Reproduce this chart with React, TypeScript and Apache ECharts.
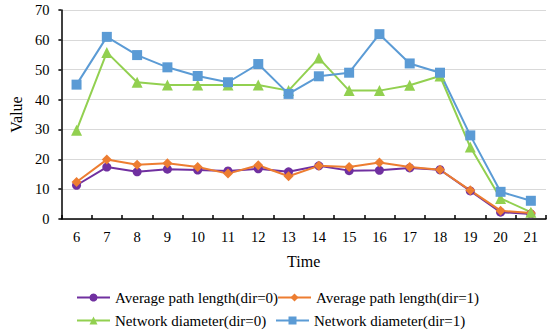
import React, { useEffect, useRef } from "react";
import * as echarts from "echarts";

const categories = ["6", "7", "8", "9", "10", "11", "12", "13", "14", "15", "16", "17", "18", "19", "20", "21"];
const aplDir0 = [11.3, 17.4, 15.8, 16.7, 16.4, 16.1, 16.8, 15.8, 17.8, 16.2, 16.3, 17.1, 16.5, 9.4, 2.3, 1.7];
const aplDir1 = [12.4, 19.9, 18.2, 18.7, 17.4, 15.2, 18.0, 14.3, 17.8, 17.4, 18.9, 17.4, 16.5, 9.6, 2.8, 2.0];
const ndDir0 = [29.7, 55.8, 45.8, 44.9, 44.9, 44.9, 44.9, 43, 53.9, 43, 43, 44.8, 47.9, 24.1, 6.9, 2.3];
const ndDir1 = [45, 61, 54.9, 50.8, 47.9, 45.8, 51.9, 41.9, 47.8, 49, 61.9, 52.1, 49, 28, 9.1, 6.1];
const yTicks = { min: 0, max: 70, interval: 10 };

const FONT = "'Liberation Serif', 'Times New Roman', serif";

export default function App() {
  const ref = useRef<HTMLDivElement>(null);
  useEffect(() => {
    if (!ref.current) return;
    const chart = echarts.init(ref.current, undefined, { renderer: "svg" });
    const mk = (name: string, data: number[], color: string, symbol: string, size: number) => ({
      name,
      type: "line",
      data,
      symbol,
      symbolSize: size,
      lineStyle: { color, width: 2 },
      itemStyle: { color },
      emphasis: { disabled: true },
    });
    const legendBase = {
      orient: "horizontal",
      padding: 0,
      itemWidth: 33,
      itemHeight: 10,
      itemGap: 3,
      textStyle: { fontFamily: FONT, fontSize: 15, color: "#000" },
      selectedMode: false,
    };
    chart.setOption({
      animation: false,
      textStyle: { fontFamily: FONT },
      grid: { left: 50, right: 4, top: 10, bottom: 117, containLabel: false },
      xAxis: {
        type: "category",
        data: categories,
        boundaryGap: true,
        name: "Time",
        nameLocation: "middle",
        nameGap: 34,
        nameTextStyle: { fontFamily: FONT, fontSize: 16, color: "#000" },
        axisLine: { lineStyle: { color: "#000", width: 1.5 } },
        axisTick: { show: true, length: 4, inside: true, lineStyle: { color: "#000", width: 1.5 } },
        axisLabel: { fontFamily: FONT, fontSize: 14.5, color: "#000", margin: 10 },
      },
      yAxis: {
        type: "value",
        min: yTicks.min,
        max: yTicks.max,
        interval: yTicks.interval,
        name: "Value",
        nameLocation: "middle",
        nameGap: 36,
        nameTextStyle: { fontFamily: FONT, fontSize: 16, color: "#000" },
        axisLine: { show: true, lineStyle: { color: "#000", width: 1.5 } },
        axisTick: { show: true, length: 3, lineStyle: { color: "#000", width: 1.5 } },
        axisLabel: { fontFamily: FONT, fontSize: 14.5, color: "#000", margin: 12 },
        splitLine: { show: true, lineStyle: { color: "#d9d9d9", width: 1 } },
      },
      legend: [
        { ...legendBase, left: 76, top: 290, data: ["Average path length(dir=0)"] },
        { ...legendBase, left: 277, top: 290, data: ["Average path length(dir=1)"] },
        { ...legendBase, left: 76, top: 313, data: ["Network diameter(dir=0)"] },
        { ...legendBase, left: 275, top: 313, data: ["Network diameter(dir=1)"] },
      ],
      series: [
        mk("Average path length(dir=0)", aplDir0, "#7030A0", "circle", 9),
        mk("Average path length(dir=1)", aplDir1, "#ED7D31", "diamond", 10),
        mk("Network diameter(dir=0)", ndDir0, "#92D050", "triangle", 11),
        mk("Network diameter(dir=1)", ndDir1, "#5B9BD5", "rect", 10),
      ],
    });
    return () => chart.dispose();
  }, []);
  return <div ref={ref} style={{ width: 550, height: 336, position: "absolute", left: 0, top: 0 }} />;
}
